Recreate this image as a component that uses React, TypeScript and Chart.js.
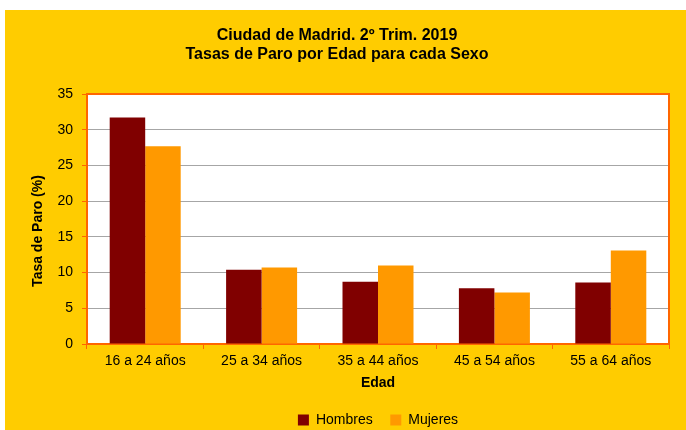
import React, { useEffect, useRef } from "react";
import { Chart, registerables } from "chart.js";

Chart.register(...registerables);

const categories = ["16 a 24 años", "25 a 34 años", "35 a 44 años", "45 a 54 años", "55 a 64 años"];
const hombres = [31.7, 10.4, 8.7, 7.8, 8.6];
const mujeres = [27.7, 10.7, 11.0, 7.2, 13.1];
const seriesNames = ["Hombres", "Mujeres"];
const titleLines = ["Ciudad de Madrid. 2º Trim. 2019", "Tasas de Paro por Edad para cada Sexo"];
const yTitle = "Tasa de Paro (%)";
const xTitle = "Edad";
const yMin = 0;
const yMax = 35;
const yStep = 5;

const FONT = "'Liberation Sans', Arial, Helvetica, sans-serif";
const ORANGE = "#FF6600";

const framePlugin = {
  id: "plotFrame",
  beforeDraw(chart: any) {
    const { ctx, chartArea } = chart;
    ctx.save();
    ctx.fillStyle = "#FFFFFF";
    ctx.fillRect(chartArea.left, chartArea.top, chartArea.right - chartArea.left, chartArea.bottom - chartArea.top);
    ctx.restore();
  },
  beforeDatasetsDraw(chart: any) {
    const { ctx, chartArea } = chart;
    ctx.save();
    ctx.strokeStyle = ORANGE;
    ctx.lineWidth = 2;
    ctx.strokeRect(chartArea.left, chartArea.top, chartArea.right - chartArea.left, chartArea.bottom - chartArea.top);
    ctx.restore();
  },
  afterDraw(chart: any) {
    const { ctx, chartArea } = chart;
    ctx.save();
    ctx.translate(33.5, (chartArea.top + chartArea.bottom) / 2 + 12);
    ctx.rotate(-Math.PI / 2);
    ctx.font = `bold 14px ${FONT}`;
    ctx.fillStyle = "#000";
    ctx.textAlign = "center";
    ctx.textBaseline = "middle";
    ctx.fillText(yTitle, 0, 0);
    ctx.restore();
  },
};

export default function App() {
  const ref = useRef<HTMLCanvasElement | null>(null);
  useEffect(() => {
    if (!ref.current) return;
    const chart = new Chart(ref.current, {
      type: "bar",
      data: {
        labels: categories,
        datasets: [
          { label: seriesNames[0], data: hombres, backgroundColor: "#800000", borderWidth: 0 },
          { label: seriesNames[1], data: mujeres, backgroundColor: "#FF9900", borderWidth: 0 },
        ],
      },
      options: {
        responsive: false,
        animation: false,
        layout: { padding: { top: 0, right: 17, bottom: -7, left: 0 } },
        datasets: { bar: { categoryPercentage: 0.61, barPercentage: 1 } },
        plugins: {
          title: {
            display: true,
            text: titleLines,
            color: "#000",
            font: { family: FONT, size: 16, weight: "bold", lineHeight: 1.2 },
            padding: { top: 16, bottom: 29.6 },
          },
          legend: {
            position: "bottom",
            fullSize: false,
            labels: {
              color: "#000",
              font: { family: FONT, size: 14 },
              boxWidth: 11,
              boxHeight: 11,
              padding: 17.6,
            },
          },
          tooltip: { enabled: false },
        },
        scales: {
          x: {
            grid: {
              display: true,
              drawOnChartArea: false,
              drawTicks: true,
              tickLength: 5,
              color: ORANGE,
              tickColor: ORANGE,
            },
            border: { display: false },
            ticks: { color: "#000", font: { family: FONT, size: 14 }, padding: 4, maxRotation: 0 },
            title: {
              display: true,
              text: xTitle,
              color: "#000",
              font: { family: FONT, size: 14, weight: "bold" },
              padding: { top: 4, bottom: 4 },
            },
            afterFit(scale: any) {
              scale.height = 51.4;
            },
          },
          y: {
            min: yMin,
            max: yMax,
            ticks: { stepSize: yStep, color: "#000", font: { family: FONT, size: 14 }, padding: 9 },
            grid: { color: "#A6A6A6", tickColor: ORANGE, tickLength: 5, lineWidth: 1 },
            border: { display: false },
            afterFit(scale: any) {
              scale.width = 82;
            },
          },
        },
      },
      plugins: [framePlugin],
    } as any);
    return () => chart.destroy();
  }, []);
  return (
    <div
      style={{
        position: "absolute",
        left: 5,
        top: 10,
        width: 681,
        height: 420,
        background: "#FFCC00",
      }}
    >
      <canvas ref={ref} width={681} height={420} style={{ display: "block" }} />
    </div>
  );
}
